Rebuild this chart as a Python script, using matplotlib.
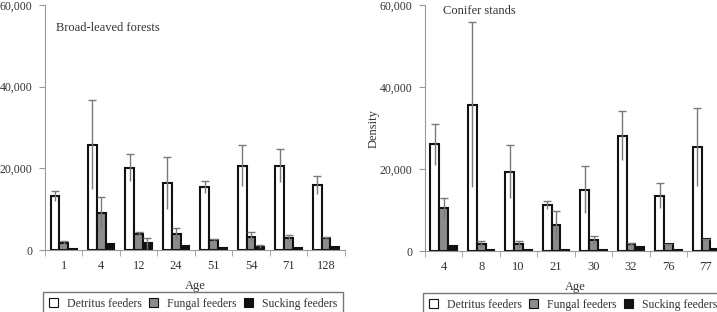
import matplotlib.pyplot as plt
import numpy as np
from matplotlib.patches import Patch

plt.rcParams['font.family'] = ['Liberation Serif', 'DejaVu Serif']

# Broad-leaved forests
broad_ages = ['1', '4', '12', '24', '51', '54', '71', '128']
broad_detritus = [13200, 25800, 20200, 16400, 15400, 20700, 20700, 16000]
broad_detritus_err = [1200, 10900, 3400, 6400, 1400, 5100, 4100, 2250]
broad_fungal = [1800, 9100, 4000, 3900, 2400, 3300, 2900, 2900]
broad_fungal_err = [300, 3900, 400, 1400, 200, 1200, 800, 400]
broad_sucking = [200, 1450, 1650, 950, 400, 800, 550, 800]
broad_sucking_err = [0, 0, 1350, 0, 0, 400, 0, 0]

# Conifer stands
conifer_ages = ['4', '8', '10', '21', '30', '32', '76', '77']
conifer_detritus = [26000, 35700, 19400, 11200, 15000, 28100, 13500, 25400]
conifer_detritus_err = [5100, 20100, 6500, 1000, 5800, 6000, 3000, 9500]
conifer_fungal = [10500, 1600, 1600, 6300, 2700, 1600, 1600, 2850]
conifer_fungal_err = [2500, 900, 800, 3400, 1000, 400, 200, 200]
conifer_sucking = [1200, 250, 200, 200, 250, 1050, 250, 600]
conifer_sucking_err = [0, 0, 0, 0, 0, 0, 0, 0]

groups = ['Detritus feeders', 'Fungal feeders', 'Sucking feeders']
fills = ['white', '#8c8c8c', '#111111']
text_col = '#333333'
axis_col = '#999999'
err_col = '#7a7a7a'


def draw_panel(ax, ages, series, errors, title, title_xy):
    x = np.arange(len(ages))
    w = 0.235
    for k, (vals, errs) in enumerate(zip(series, errors)):
        pos = x + (k - 1) * w
        ax.bar(pos, vals, w, color=fills[k], edgecolor='#111111', linewidth=1.5, zorder=2)
        errs = np.array(errs)
        m = errs > 0
        if m.any():
            eb = ax.errorbar(pos[m], np.array(vals)[m], yerr=errs[m], fmt='none',
                             ecolor=err_col, elinewidth=1.0, capsize=3, capthick=1.0, zorder=3)
            eb[1][0].set_visible(False)  # hide the lower caps
    ax.set_xlim(-0.5, len(ages) - 0.5)
    ax.set_ylim(0, 60000)
    ax.set_yticks([0, 20000, 40000, 60000])
    ax.set_yticklabels(['0', '20,000', '40,000', '60,000'])
    ax.set_xticks(x)
    ax.set_xticklabels(ages)
    ax.set_xticks(np.arange(len(ages) + 1) - 0.5, minor=True)
    ax.tick_params(axis='x', which='major', length=0, pad=7, labelsize=9, labelcolor=text_col)
    ax.tick_params(axis='x', which='minor', length=4, color=axis_col, direction='out')
    ax.tick_params(axis='y', length=4, color=axis_col, labelsize=8.5, labelcolor=text_col, pad=5)
    for s in ['top', 'right']:
        ax.spines[s].set_visible(False)
    for s in ['left', 'bottom']:
        ax.spines[s].set_color(axis_col)
    ax.set_xlabel('Age', fontsize=9, color=text_col, labelpad=6)
    ax.text(title_xy[0], title_xy[1], title, transform=ax.transAxes, fontsize=9,
            color=text_col, ha='left', va='center')
    handles = [Patch(facecolor=fills[k], edgecolor='#111111', linewidth=0.8) for k in range(3)]
    ax.legend(handles, groups, loc='upper left', bbox_to_anchor=(-0.007, -0.17), ncol=3,
              fontsize=8.5, frameon=True, fancybox=False, edgecolor='#555555',
              handlelength=0.75, handleheight=0.75, handletextpad=0.8, columnspacing=0.6,
              borderpad=0.5, borderaxespad=0, labelcolor=text_col)


fig = plt.figure(figsize=(7.17, 3.12), dpi=100)
ax1 = fig.add_axes([0.0628, 0.1987, 0.418, 0.785])
ax2 = fig.add_axes([0.5927, 0.1955, 0.418, 0.788])

draw_panel(ax1, broad_ages, [broad_detritus, broad_fungal, broad_sucking],
           [broad_detritus_err, broad_fungal_err, broad_sucking_err],
           'Broad-leaved forests', (0.035, 0.905))
draw_panel(ax2, conifer_ages, [conifer_detritus, conifer_fungal, conifer_sucking],
           [conifer_detritus_err, conifer_fungal_err, conifer_sucking_err],
           'Conifer stands', (0.06, 0.975))
ax2.set_ylabel('Density', fontsize=9, color=text_col, labelpad=0)

fig.savefig('out.png', dpi=100, facecolor='white')
